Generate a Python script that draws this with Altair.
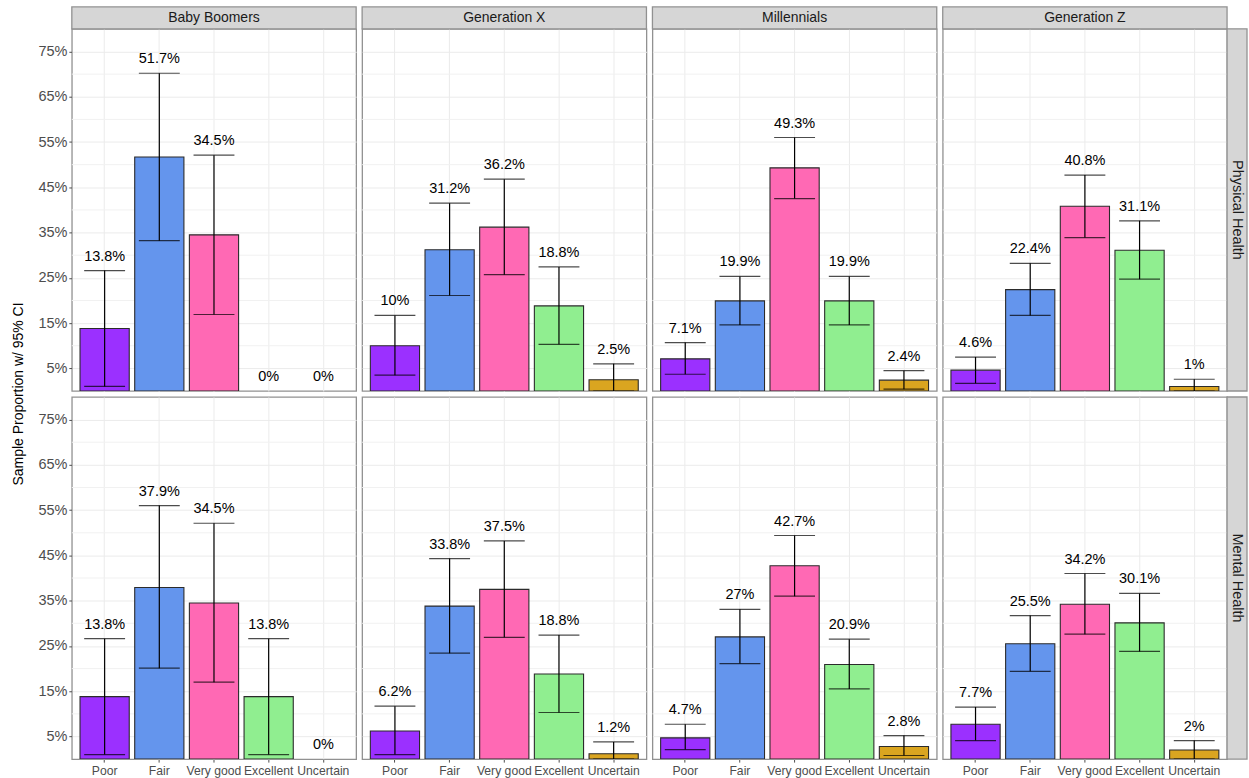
import altair as alt
import pandas as pd

FONT = "Liberation Sans"

generations = ["Baby Boomers", "Generation X", "Millennials", "Generation Z"]
measures = ["Physical Health", "Mental Health"]
ratings = ["Poor", "Fair", "Very good", "Excellent", "Uncertain"]
rating_colors = ["#9B30FF", "#6495ED", "#FF69B4", "#90EE90", "#DAA520"]

# Sample proportions (%) with 95% CI bounds, listed in rating order
phys_boomers = [13.8, 51.7, 34.5, 0, 0]
phys_boomers_lo = [1.0, 33.2, 16.9, 0, 0]
phys_boomers_hi = [26.6, 70.2, 52.1, 0, 0]

phys_genx = [10, 31.2, 36.2, 18.8, 2.5]
phys_genx_lo = [3.5, 21.1, 25.7, 10.3, 0]
phys_genx_hi = [16.7, 41.5, 46.8, 27.4, 6.0]

phys_millennials = [7.1, 19.9, 49.3, 19.9, 2.4]
phys_millennials_lo = [3.7, 14.6, 42.5, 14.6, 0.4]
phys_millennials_hi = [10.7, 25.3, 56.0, 25.3, 4.5]

phys_genz = [4.6, 22.4, 40.8, 31.1, 1]
phys_genz_lo = [1.7, 16.7, 33.9, 24.7, 0]
phys_genz_hi = [7.5, 28.2, 47.7, 37.6, 2.6]

ment_boomers = [13.8, 37.9, 34.5, 13.8, 0]
ment_boomers_lo = [1.0, 20.1, 17.0, 1.0, 0]
ment_boomers_hi = [26.6, 56.0, 52.1, 26.6, 0]

ment_genx = [6.2, 33.8, 37.5, 18.8, 1.2]
ment_genx_lo = [1.0, 23.4, 26.9, 10.3, 0]
ment_genx_hi = [11.7, 44.3, 48.2, 27.4, 3.8]

ment_millennials = [4.7, 27, 42.7, 20.9, 2.8]
ment_millennials_lo = [2.1, 21.1, 36.0, 15.5, 0.8]
ment_millennials_hi = [7.7, 33.1, 49.4, 26.5, 5.2]

ment_genz = [7.7, 25.5, 34.2, 30.1, 2]
ment_genz_lo = [4.1, 19.4, 27.6, 23.8, 0]
ment_genz_hi = [11.5, 31.7, 41.0, 36.6, 4.1]

y_ticks = [0.05, 0.15, 0.25, 0.35, 0.45, 0.55, 0.65, 0.75]
y_minor = [0.10, 0.20, 0.30, 0.40, 0.50, 0.60, 0.70]
y_title = "Sample Proportion w/ 95% CI"

W, H = 285, 363
STRIP = 22
STRIP_R = 20
GRID = "#EBEBEB"
BORDER = "#919191"

panel_data = [
    [(phys_boomers, phys_boomers_lo, phys_boomers_hi),
     (phys_genx, phys_genx_lo, phys_genx_hi),
     (phys_millennials, phys_millennials_lo, phys_millennials_hi),
     (phys_genz, phys_genz_lo, phys_genz_hi)],
    [(ment_boomers, ment_boomers_lo, ment_boomers_hi),
     (ment_genx, ment_genx_lo, ment_genx_hi),
     (ment_millennials, ment_millennials_lo, ment_millennials_hi),
     (ment_genz, ment_genz_lo, ment_genz_hi)],
]

y_scale = alt.Scale(domain=[0, 0.8], nice=False, zero=True)
x_scale = alt.Scale(domain=ratings, paddingInner=0, paddingOuter=0.1)
color = alt.Color("rating:N", scale=alt.Scale(domain=ratings, range=rating_colors), legend=None)


def make_panel(est, lo, hi, row, col):
    df = pd.DataFrame({
        "rating": ratings,
        "est": [v / 100 for v in est],
        "lo": [v / 100 for v in lo],
        "hi": [v / 100 for v in hi],
        "label": [f"{v:g}%" for v in est],
    })

    if col == 0:
        y_axis = alt.Axis(values=y_ticks, format=".0%", labelFontSize=14.5, labelColor="#4D4D4D",
                          labelFont=FONT, tickColor="#4D4D4D", tickSize=3, labelPadding=2,
                          domain=False, grid=True, gridColor=GRID, gridWidth=1, title=None)
    else:
        y_axis = alt.Axis(values=y_ticks, labels=False, ticks=False, domain=False,
                          grid=True, gridColor=GRID, gridWidth=1, title=None)
    if row == 1:
        x_axis = alt.Axis(labelAngle=0, labelFontSize=12.2, labelColor="#4D4D4D", labelFont=FONT,
                          tickColor="#4D4D4D", tickSize=3, labelPadding=2, domain=False,
                          grid=True, gridColor=GRID, bandPosition=0.5, labelOverlap=False,
                          title=None)
    else:
        x_axis = alt.Axis(labels=False, ticks=False, domain=False, grid=True, gridColor=GRID,
                          bandPosition=0.5, title=None)

    x = alt.X("rating:N", sort=ratings, scale=x_scale, axis=x_axis, title=None)

    def y(field):
        return alt.Y(field, type="quantitative", scale=y_scale, axis=y_axis, title=None)

    base = alt.Chart(df).encode(x=x)

    minor = alt.Chart(pd.DataFrame({"v": y_minor})).mark_rule(
        color="#F1F1F1", strokeWidth=1
    ).encode(y=y("v"))

    bars = base.transform_filter("datum.est > 0").mark_bar(
        width=alt.RelativeBandSize(0.9), stroke="#2B2B2B", strokeWidth=1.1, clip=True
    ).encode(y=y("est"), color=color)

    whisker = base.transform_filter("datum.hi > 0").mark_rule(
        color="black", strokeWidth=1.2, clip=True
    ).encode(y=y("lo"), y2="hi:Q")

    cap_hi = base.transform_filter("datum.hi > 0").mark_tick(
        color="black", size=41, thickness=1.2, clip=True
    ).encode(y=y("hi"))

    cap_lo = base.transform_filter("datum.hi > 0").mark_tick(
        color="black", size=41, thickness=1.2, clip=True
    ).encode(y=y("lo"))

    labels = base.mark_text(
        font=FONT, fontSize=14.5, color="black", baseline="alphabetic", dy=-10
    ).encode(y=y("hi"), text="label:N")

    layers = [minor, bars, whisker, cap_hi, cap_lo, labels]

    # strip with the generation name above each top-row panel
    if row == 0:
        sdf = pd.DataFrame({"name": [generations[col]]})
        layers.append(alt.Chart(sdf).mark_rect(fill="#D6D6D6", stroke=BORDER, strokeWidth=1.3).encode(
            x=alt.value(0), x2=alt.value(W), y=alt.value(-STRIP), y2=alt.value(0)))
        layers.append(alt.Chart(sdf).mark_text(font=FONT, fontSize=14, color="#1A1A1A",
                                               baseline="middle", align="center").encode(
            x=alt.value(W / 2), y=alt.value(-STRIP / 2 + 0.5), text="name:N"))

    # strip with the measure name right of each last-column panel
    if col == 3:
        sdf = pd.DataFrame({"name": [measures[row]]})
        layers.append(alt.Chart(sdf).mark_rect(fill="#D6D6D6", stroke=BORDER, strokeWidth=1.3).encode(
            x=alt.value(W), x2=alt.value(W + STRIP_R), y=alt.value(0), y2=alt.value(H)))
        layers.append(alt.Chart(sdf).mark_text(font=FONT, fontSize=14.5, color="#1A1A1A",
                                               baseline="middle", align="center", angle=90).encode(
            x=alt.value(W + STRIP_R / 2), y=alt.value(H / 2), text="name:N"))

    # shared y-axis title, centred over both rows
    if row == 0 and col == 0:
        tdf = pd.DataFrame({"t": [y_title]})
        layers.append(alt.Chart(tdf).mark_text(font=FONT, fontSize=14, color="black",
                                               baseline="middle", align="center", angle=270).encode(
            x=alt.value(-53), y=alt.value(H + 3), text="t:N"))

    return alt.layer(*layers).properties(width=W, height=H)


panels = []
for r in range(2):
    for c in range(4):
        est, lo, hi = panel_data[r][c]
        panels.append(make_panel(est, lo, hi, r, c))

chart = alt.concat(*panels, columns=4, spacing=6).properties(
    bounds="flush",
    padding={"left": 11, "top": 4, "right": 0, "bottom": 0},
    background="white",
).configure_view(
    stroke=BORDER, strokeWidth=1.3
)

chart.save("out.html", embed_options={"renderer": "svg", "actions": False})
